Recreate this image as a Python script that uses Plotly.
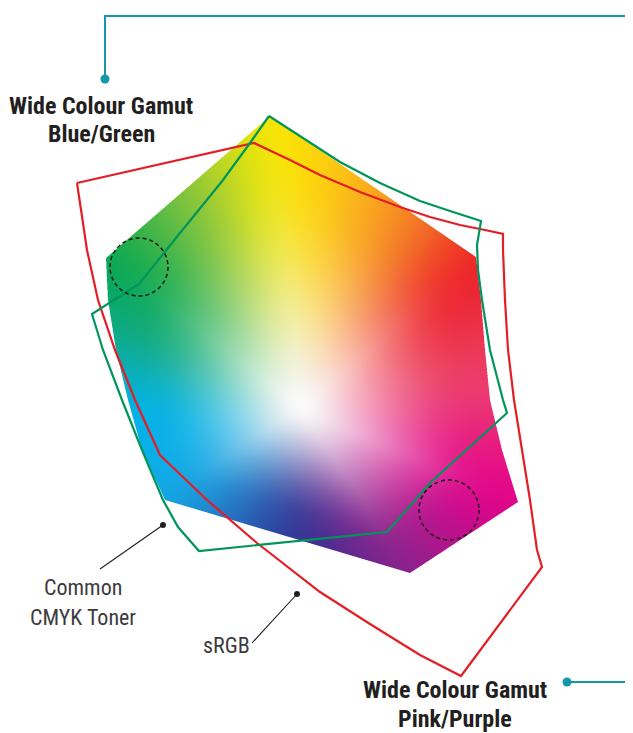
import base64
import struct
import zlib

import numpy as np
import plotly.graph_objects as go

# ---------------- data (pixel coordinates) ----------------
# colour-filled gamut outline
fill_x = [270, 476, 481, 485, 490, 502, 518, 410, 165, 142, 128, 116, 108, 106]
fill_y = [116, 257, 300, 350, 400, 450, 502, 573, 500, 450, 400, 350, 300, 258]

# colour stops on the boundary of the filled gamut (x, y, rgb)
stop_x = [270, 370, 430, 476, 488, 518, 410, 300, 230, 165, 125, 112, 106, 190]
stop_y = [116, 180, 225, 257, 380, 502, 573, 538, 520, 500, 400, 330, 258, 187]
stop_rgb = [
    (255, 237, 0), (250, 175, 30), (243, 110, 40), (237, 28, 36),
    (236, 70, 110), (230, 0, 140), (140, 35, 140), (46, 49, 146),
    (40, 110, 190), (20, 170, 230), (0, 180, 235), (20, 170, 130),
    (0, 166, 81), (140, 198, 62),
]
white_point = (302, 408)

# green gamut line
green_x = [269, 300, 340, 380, 420, 450, 481, 477, 478, 482, 490, 503, 507, 430, 387, 199, 178, 163, 142, 122, 103, 92, 139, 180, 223, 250, 269]
green_y = [116, 136, 162, 183, 201, 211, 221, 245, 270, 300, 350, 400, 413, 483, 532, 551, 527, 500, 450, 400, 350, 314, 284, 233, 180, 143, 116]

# red gamut line
red_x = [77, 254, 290, 320, 360, 400, 430, 460, 485, 503, 503, 505, 508, 514, 522, 530, 537, 542, 461, 420, 370, 320, 257, 207, 160, 135, 115, 98, 87, 80, 77]
red_y = [183, 143, 160, 175, 192, 207, 217, 225, 230, 234, 250, 300, 350, 400, 450, 500, 550, 567, 676, 655, 624, 592, 543, 500, 455, 400, 350, 300, 250, 200, 183]

# dashed circles (centre x, centre y, radius)
circ_x = [139, 449]
circ_y = [267, 510]
circ_r = [29, 30]

# callouts
teal_x = [105, 105, 633]
teal_y = [79, 16, 16]
teal2_x = [567, 633]
teal2_y = [682, 682]
cmyk_ptr_x = [100, 163]
cmyk_ptr_y = [569, 525]
srgb_ptr_x = [252, 297]
srgb_ptr_y = [643, 594]

labels_bold = [
    ("Wide Colour Gamut", 101, 106), ("Blue/Green", 101, 134),
    ("Wide Colour Gamut", 455, 690), ("Pink/Purple", 455, 719),
]
labels_reg = [("Common", 83, 587), ("CMYK Toner", 83, 617), ("sRGB", 226, 645)]

W, H = 633, 733
PAGE_OFF = 8  # the page body margin: the figure starts 8px in

# ---------------- gradient image of the filled gamut ----------------
X0, X1, Y0, Y1 = 95, 530, 105, 585
SS = 3
PAD = 60


def inside(px, py, xs, ys):
    res = np.zeros(px.shape, dtype=bool)
    n = len(xs)
    for i in range(n):
        x1, y1 = xs[i], ys[i]
        x2, y2 = xs[(i + 1) % n], ys[(i + 1) % n]
        if y1 == y2:
            continue
        c = ((y1 > py) != (y2 > py)) & (px < (x2 - x1) * (py - y1) / (y2 - y1) + x1)
        res ^= c
    return res


def blur(a, sigma):
    r = int(3 * sigma)
    k = np.exp(-0.5 * (np.arange(-r, r + 1) / sigma) ** 2)
    k /= k.sum()
    p = np.pad(a, ((r, r), (r, r)), mode="edge")
    p = np.apply_along_axis(lambda v: np.convolve(v, k, mode="valid"), 0, p)
    p = np.apply_along_axis(lambda v: np.convolve(v, k, mode="valid"), 1, p)
    return p


nx, ny = X1 - X0, Y1 - Y0
sx = X0 + (np.arange(nx * SS) + 0.5) / SS
sy = Y0 + (np.arange(ny * SS) + 0.5) / SS
SX, SY = np.meshgrid(sx, sy)
mask = inside(SX, SY, fill_x, fill_y).astype(float)
alpha = mask.reshape(ny, SS, nx, SS).mean(axis=(1, 3))

# colour field computed on a padded grid so that blurring has room
px = X0 - PAD + np.arange(nx + 2 * PAD) + 0.5
py = Y0 - PAD + np.arange(ny + 2 * PAD) + 0.5
PX, PY = np.meshgrid(px, py)
cx, cy = white_point
ang = np.arctan2(PY - cy, PX - cx)
rad = np.hypot(PX - cx, PY - cy)

bx, by = [], []
n = len(fill_x)
for i in range(n):
    xa, ya = fill_x[i], fill_y[i]
    xb, yb = fill_x[(i + 1) % n], fill_y[(i + 1) % n]
    s = np.linspace(0, 1, 60, endpoint=False)
    bx.extend(xa + (xb - xa) * s)
    by.extend(ya + (yb - ya) * s)
bx, by = np.array(bx), np.array(by)
ba = np.arctan2(by - cy, bx - cx)
br = np.hypot(bx - cx, by - cy)
o = np.argsort(ba)
R = np.interp(ang, ba[o], br[o], period=2 * np.pi)
t = np.clip(rad / R, 0, 1)
s_ = np.clip(t / 0.85, 0, 1)
f = 3 * s_ ** 2 - 2 * s_ ** 3
f = 0.5 * f + 0.5 * (1 - (1 - t) ** 1.8)

sa = np.arctan2(np.array(stop_y) - cy, np.array(stop_x) - cx)
so = np.argsort(sa)
rgb = np.array(stop_rgb, dtype=float)
img = np.zeros((ny, nx, 4), dtype=np.uint8)
for ch in range(3):
    hue = np.interp(ang, sa[so], rgb[so, ch], period=2 * np.pi)
    hue = blur(hue, 22)
    val = 255 * (1 - f) + hue * f
    val = blur(val, 5)
    val = val[PAD:PAD + ny, PAD:PAD + nx]
    img[..., ch] = np.clip(val, 0, 255).astype(np.uint8)
img[..., 3] = np.clip(alpha * 255, 0, 255).astype(np.uint8)


def png_uri(a):
    h, w, _ = a.shape
    raw = b"".join(b"\x00" + a[r].tobytes() for r in range(h))

    def chunk(tag, data):
        c = struct.pack(">I", len(data)) + tag + data
        return c + struct.pack(">I", zlib.crc32(tag + data) & 0xFFFFFFFF)

    png = b"\x89PNG\r\n\x1a\n" + chunk(b"IHDR", struct.pack(">IIBBBBB", w, h, 8, 6, 0, 0, 0))
    png += chunk(b"IDAT", zlib.compress(raw, 9)) + chunk(b"IEND", b"")
    return "data:image/png;base64," + base64.b64encode(png).decode()


fig = go.Figure()
fig.add_trace(go.Image(source=png_uri(img), x0=X0 + 0.5, y0=Y0 + 0.5, dx=1, dy=1, hoverinfo="skip"))

RED = "#E31E26"
GREEN = "#00955A"
TEAL = "#1497A8"
INK = "#231F20"

fig.add_trace(go.Scatter(x=red_x, y=red_y, mode="lines", line=dict(color=RED, width=2.2), hoverinfo="skip"))
fig.add_trace(go.Scatter(x=green_x, y=green_y, mode="lines", line=dict(color=GREEN, width=2.2), hoverinfo="skip"))

for x, y, r in zip(circ_x, circ_y, circ_r):
    fig.add_shape(type="circle", xref="x", yref="y", x0=x - r, x1=x + r, y0=y - r, y1=y + r,
                  line=dict(color="#111111", width=1.4, dash="4px,3px"))

fig.add_trace(go.Scatter(x=teal_x, y=teal_y, mode="lines", line=dict(color=TEAL, width=2), hoverinfo="skip"))
fig.add_trace(go.Scatter(x=teal2_x, y=teal2_y, mode="lines", line=dict(color=TEAL, width=2), hoverinfo="skip"))
fig.add_trace(go.Scatter(x=[teal_x[0], teal2_x[0]], y=[teal_y[0], teal2_y[0]], mode="markers",
                         marker=dict(color=TEAL, size=9), hoverinfo="skip"))
for xs, ys in [(cmyk_ptr_x, cmyk_ptr_y), (srgb_ptr_x, srgb_ptr_y)]:
    fig.add_trace(go.Scatter(x=xs, y=ys, mode="lines", line=dict(color=INK, width=1.1), hoverinfo="skip"))
    fig.add_trace(go.Scatter(x=[xs[1]], y=[ys[1]], mode="markers", marker=dict(color=INK, size=6), hoverinfo="skip"))

FONT = "Liberation Sans Narrow, Roboto Condensed, DejaVu Sans Condensed, Lato, sans-serif"
for txt, x, y in labels_bold:
    fig.add_annotation(x=x, y=y, text="<b>" + txt + "</b>", showarrow=False, xanchor="center", yanchor="middle",
                       font=dict(family=FONT, size=24, color=INK))
for txt, x, y in labels_reg:
    fig.add_annotation(x=x, y=y, text=txt, showarrow=False, xanchor="center", yanchor="middle",
                       font=dict(family=FONT, size=22, color="#3C3B3D"))

fig.update_layout(
    width=W - PAGE_OFF, height=H - PAGE_OFF, margin=dict(l=0, r=0, t=0, b=0),
    paper_bgcolor="white", plot_bgcolor="white", showlegend=False,
    xaxis=dict(range=[PAGE_OFF, W], visible=False, showgrid=False, zeroline=False),
    yaxis=dict(range=[H, PAGE_OFF], visible=False, showgrid=False, zeroline=False),
)
fig.write_html("out.html")
